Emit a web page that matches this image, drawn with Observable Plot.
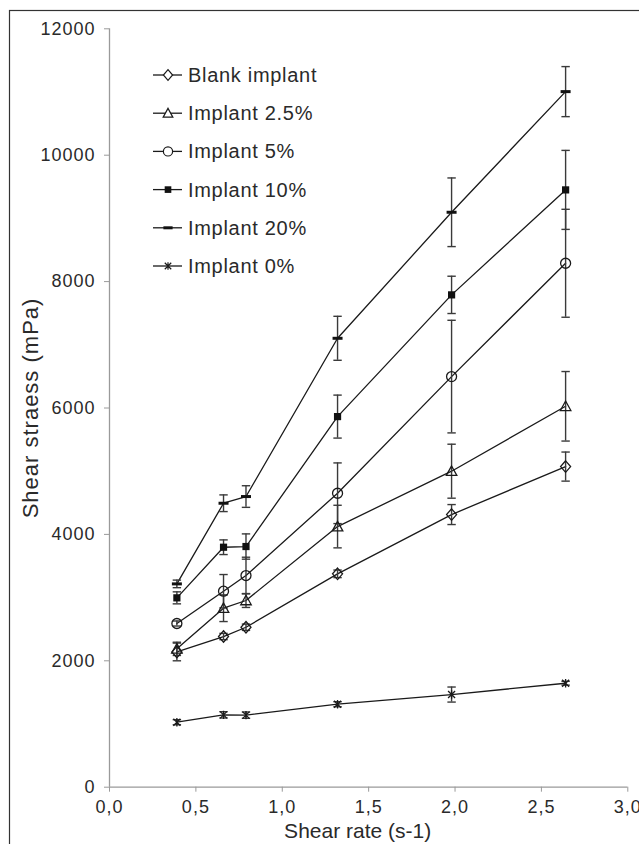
<!DOCTYPE html>
<html><head><meta charset="utf-8">
<script src="https://cdn.jsdelivr.net/npm/d3@7"></script>
<script src="https://cdn.jsdelivr.net/npm/@observablehq/plot@0.6"></script>
<style>body{margin:0;background:#fff;} #chart svg{display:block;}</style>
</head><body><div id="chart"></div>
<script>
// ---- data ----
const shearRate = [0.39, 0.66, 0.79, 1.32, 1.98, 2.64];
const xTicks = [0, 0.5, 1.0, 1.5, 2.0, 2.5, 3.0];
const yTicks = [0, 2000, 4000, 6000, 8000, 10000, 12000];
const seriesNames = ["Blank implant", "Implant 2.5%", "Implant 5%", "Implant 10%", "Implant 20%", "Implant 0%"];
const blankValues = [2140, 2384, 2531, 3376, 4314, 5073];
const blankErrors = [140, 50, 50, 60, 158, 230];
const implant25Values = [2189, 2832, 2954, 4124, 5000, 6027];
const implant25Errors = [105, 211, 110, 337, 427, 550];
const implant5Values = [2590, 3101, 3349, 4651, 6497, 8290];
const implant5Errors = [40, 264, 290, 480, 891, 854];
const implant10Values = [2996, 3797, 3808, 5864, 7790, 9451];
const implant10Errors = [95, 116, 200, 340, 295, 625];
const implant20Values = [3217, 4493, 4599, 7103, 9097, 11006];
const implant20Errors = [60, 132, 171, 348, 543, 396];
const implant0Values = [1028, 1145, 1140, 1313, 1466, 1645];
const implant0Errors = [40, 50, 50, 40, 119, 30];

// ---- custom marker symbols ----
const rad = s => Math.sqrt(s / Math.PI);
const symDiamond = {draw(c, s){ const r = rad(s); c.moveTo(0,-r*1.15); c.lineTo(r,0); c.lineTo(0,r*1.15); c.lineTo(-r,0); c.closePath(); }};
const symTriangle = {draw(c, s){ const r = rad(s); c.moveTo(0,-r*1.05); c.lineTo(r*1.05,r*0.85); c.lineTo(-r*1.05,r*0.85); c.closePath(); }};
const symCircle = {draw(c, s){ const r = rad(s); c.moveTo(r,0); c.arc(0,0,r,0,2*Math.PI); c.closePath(); }};
const symSquare = {draw(c, s){ const r = rad(s); c.rect(-r,-r,2*r,2*r); }};
const symDash = {draw(c, s){ const r = rad(s); c.rect(-r,-1.5,2*r,3); }};
const symStar = {draw(c, s){ const r = rad(s); c.moveTo(-r,-r); c.lineTo(r,r); c.moveTo(r,-r); c.lineTo(-r,r); c.moveTo(0,-r*1.2); c.lineTo(0,r*1.2); }};
const symCap = {draw(c, s){ const r = rad(s); c.moveTo(-r,0); c.lineTo(r,0); }};

const series = [
  {name: seriesNames[0], values: blankValues, errors: blankErrors, symbol: symDiamond, r: 5, fill: "none", stroke: "#1a1a1a"},
  {name: seriesNames[1], values: implant25Values, errors: implant25Errors, symbol: symTriangle, r: 5, fill: "none", stroke: "#1a1a1a"},
  {name: seriesNames[2], values: implant5Values, errors: implant5Errors, symbol: symCircle, r: 5, fill: "none", stroke: "#1a1a1a"},
  {name: seriesNames[3], values: implant10Values, errors: implant10Errors, symbol: symSquare, r: 3.6, fill: "#111", stroke: "none"},
  {name: seriesNames[4], values: implant20Values, errors: implant20Errors, symbol: symDash, r: 5, fill: "#111", stroke: "none"},
  {name: seriesNames[5], values: implant0Values, errors: implant0Errors, symbol: symStar, r: 3.5, fill: "none", stroke: "#1a1a1a"}
];
const rows = series.flatMap(s => shearRate.map((x, i) => ({series: s.name, x, y: s.values[i], e: s.errors[i]})));

const fmt = d => d.toFixed(1).replace(".", ",");
const axisColor = "#9a9a9a";
const textColor = "#2a2a2a";

const marks = [
  Plot.ruleY([0], {stroke: axisColor, strokeWidth: 1.3}),
  Plot.ruleX([0], {stroke: axisColor, strokeWidth: 1.3}),
  Plot.axisX({ticks: xTicks, tickFormat: fmt, tickSize: 5, tickPadding: 8, stroke: axisColor, fill: textColor, fontSize: 18, label: null}),
  Plot.axisY({ticks: yTicks, tickFormat: d => String(d), tickSize: 5, tickPadding: 9, stroke: axisColor, fill: textColor, fontSize: 18, label: null}),
  Plot.text(["Shear straess (mPa)"], {frameAnchor: "left", text: d => d, rotate: -90, dx: -79, dy: 0, fontSize: 22, fill: textColor, textAnchor: "middle", lineAnchor: "middle"}),
  Plot.text(["Shear rate (s-1)"], {frameAnchor: "bottom", text: d => d, dx: -11, dy: 44, fontSize: 21, fill: textColor, textAnchor: "middle", lineAnchor: "middle"}),
  Plot.line(rows, {x: "x", y: "y", z: "series", stroke: "#1a1a1a", strokeWidth: 1.3}),
  Plot.ruleX(rows, {x: "x", y1: d => d.y - d.e, y2: d => d.y + d.e, stroke: "#3a3a3a", strokeWidth: 1.4}),
  Plot.dot(rows, {x: "x", y: d => d.y + d.e, symbol: symCap, r: 4.2, stroke: "#3a3a3a", strokeWidth: 1.4}),
  Plot.dot(rows, {x: "x", y: d => d.y - d.e, symbol: symCap, r: 4.2, stroke: "#3a3a3a", strokeWidth: 1.4})
];
for (const s of series) {
  marks.push(Plot.dot(rows.filter(d => d.series === s.name), {x: "x", y: "y", symbol: s.symbol, r: s.r, fill: s.fill, stroke: s.stroke, strokeWidth: 1.3}));
}

const chart = Plot.plot({
  width: 639,
  height: 844,
  marginLeft: 109,
  marginRight: 11.7,
  marginTop: 28.3,
  marginBottom: 57.3,
  style: {fontFamily: "'Liberation Sans', Arial, sans-serif", background: "#fff", overflow: "visible"},
  x: {domain: [0, 3]},
  y: {domain: [0, 12000]},
  marks
});

const svg = d3.select(chart);
// wider letter spacing for tick labels and the y title, as in the reference
svg.selectAll("g[aria-label='x-axis tick label'] text, g[aria-label='y-axis tick label'] text").attr("letter-spacing", "1px");
svg.selectAll("text").filter(function() { return this.textContent === "Shear straess (mPa)"; }).attr("letter-spacing", "1px");

// outer frame of the figure
svg.insert("rect", ":first-child").attr("x", 9.5).attr("y", 10.5).attr("width", 660).attr("height", 870)
  .attr("fill", "none").attr("stroke", "#333").attr("stroke-width", 1.2);

// legend
const lg = svg.append("g").attr("font-family", "'Liberation Sans', Arial, sans-serif").attr("text-anchor", "start");
series.forEach((s, i) => {
  const y = 75 + i * 38.2;
  lg.append("line").attr("x1", 153).attr("x2", 182).attr("y1", y).attr("y2", y).attr("stroke", "#1a1a1a").attr("stroke-width", 1.3);
  lg.append("path").attr("transform", `translate(168,${y})`)
    .attr("d", d3.symbol(s.symbol, Math.PI * s.r * s.r * 0.85)())
    .attr("fill", s.fill === "none" ? "#fff" : s.fill).attr("stroke", s.stroke).attr("stroke-width", 1.2);
  lg.append("text").attr("x", 188).attr("y", y).attr("dy", "0.35em").attr("font-size", 20)
    .attr("text-anchor", "start").attr("letter-spacing", "0.7px").attr("fill", textColor).text(s.name);
});

document.getElementById("chart").appendChild(chart);
</script>
</body></html>
